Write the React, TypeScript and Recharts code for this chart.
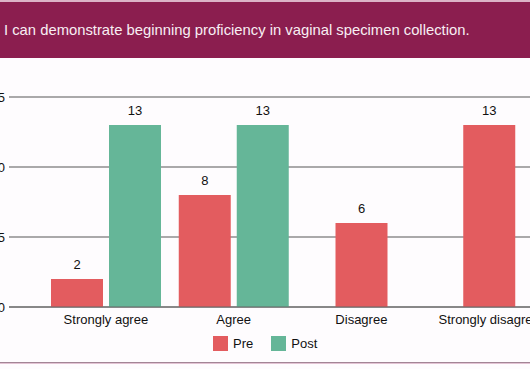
import React from 'react';
import { BarChart, Bar, XAxis, YAxis, CartesianGrid, Legend, LabelList } from 'recharts';

const categories = ['Strongly agree', 'Agree', 'Disagree', 'Strongly disagree'];
const preValues = [2, 8, 6, 13];
const postValues: (number | null)[] = [13, 13, null, null];
const yTicks = [0, 5, 10, 15];
const seriesOrder = ['Pre', 'Post'];

const PRE_COLOR = '#e35c5f';
const POST_COLOR = '#65b698';
const BAR_SIZE = 52;
const BAR_GAP = 6;
const FONT = '"Liberation Sans", Arial, Helvetica, sans-serif';

const data = categories.map((name, i) => ({ name, pre: preValues[i], post: postValues[i] }));

// when there is no Post bar, the Pre bar sits in the middle of its category
const preShift = (index: number, width: number) => (data[index]?.post == null ? (width + BAR_GAP) / 2 : 0);

const PreShape = (props: any) => {
  const { x, y, width, height, index } = props;
  return <rect x={x + preShift(index, width)} y={y} width={width} height={height} fill={PRE_COLOR} />;
};

const renderLabel = (shiftFn?: (i: number, w: number) => number) => (props: any) => {
  const vb = props.viewBox ?? props;
  const { x, y, width } = vb;
  if (props.value == null) return null;
  const shift = shiftFn ? shiftFn(props.index, width) : 0;
  return (
    <text x={x + width / 2 + shift} y={y - 10} textAnchor="middle" fontSize={13} fill="#111" fontFamily={FONT}>
      {props.value}
    </text>
  );
};

const LegendContent = (props: any) => {
  const items = [...(props.payload || [])].sort((a: any, b: any) => seriesOrder.indexOf(a.value) - seriesOrder.indexOf(b.value));
  return (
    <div style={{ display: 'flex', alignItems: 'center', fontFamily: FONT, fontSize: 13, color: '#111' }}>
      {items.map((p: any, i: number) => (
        <div key={p.value} style={{ display: 'flex', alignItems: 'center', marginRight: i === 0 ? 18 : 0 }}>
          <span style={{ width: 15, height: 15, background: p.color, display: 'inline-block', marginRight: 5 }} />
          <span>{p.value}</span>
        </div>
      ))}
    </div>
  );
};

export default function App() {
  return (
    <div style={{ position: 'fixed', left: 0, top: 0, width: 530, height: 369, overflow: 'hidden', background: '#fefcfe', fontFamily: FONT }}>
      <div style={{ position: 'absolute', left: 0, top: 0, width: 530, height: 2, background: '#dcb3c7' }} />
      <div style={{ position: 'absolute', left: 0, top: 2, width: 530, height: 56, background: '#8b1e4f', color: '#f8eef3', fontSize: 14.8, lineHeight: '57px', paddingLeft: 4, whiteSpace: 'nowrap' }}>
        I can demonstrate beginning proficiency in vaginal specimen collection.
      </div>
      <div style={{ position: 'absolute', left: -31, top: 60 }}>
        <BarChart width={620} height={300} data={data} margin={{ top: 37, right: 3, bottom: 23, left: 0 }} barGap={BAR_GAP}>
          <CartesianGrid vertical={false} stroke="#8e8e8e" strokeWidth={1.3} />
          <XAxis dataKey="name" padding={{ left: 33, right: 33 }} tickLine={false} tickSize={0} tickMargin={8} height={30}
            axisLine={{ stroke: '#666', strokeWidth: 1 }} tick={{ fontSize: 13, fill: '#111', fontFamily: FONT }} interval={0} />
          <YAxis domain={[0, 15]} ticks={yTicks} width={40} axisLine={false} tickLine={false} tickSize={0} tickMargin={4}
            tick={{ fontSize: 13, fill: '#111', fontFamily: FONT }} />
          <Legend verticalAlign="middle" align="center" content={<LegendContent />}
            wrapperStyle={{ left: 244, top: 276, width: 'auto' }} />
          <Bar dataKey="pre" name="Pre" fill={PRE_COLOR} barSize={BAR_SIZE} shape={<PreShape />} isAnimationActive={false}>
            <LabelList dataKey="pre" content={renderLabel(preShift)} />
          </Bar>
          <Bar dataKey="post" name="Post" fill={POST_COLOR} barSize={BAR_SIZE} isAnimationActive={false}>
            <LabelList dataKey="post" content={renderLabel()} />
          </Bar>
        </BarChart>
      </div>
      <div style={{ position: 'absolute', left: 0, top: 362, width: 530, height: 1, background: '#a38596' }} />
      <div style={{ position: 'absolute', left: 0, top: 363, width: 530, height: 1, background: '#e3c3d4' }} />
    </div>
  );
}
